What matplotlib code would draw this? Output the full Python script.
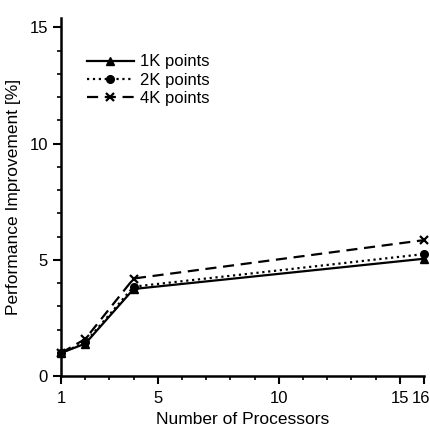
import matplotlib.pyplot as plt
import matplotlib.transforms as mtransforms
from matplotlib.ticker import MultipleLocator

plt.rcParams['font.family'] = ['Liberation Sans', 'DejaVu Sans']

# Data
procs = [1, 2, 4, 16]
imp_1k = [1.0, 1.4, 3.75, 5.05]
imp_2k = [1.0, 1.45, 3.85, 5.25]
imp_4k = [1.0, 1.6, 4.2, 5.85]
xticks = [1, 5, 10, 15, 16]
yticks = [0, 5, 10, 15]

fig = plt.figure(figsize=(4.30, 4.28), dpi=100)
ax = fig.add_axes([0.142, 0.121, 0.844, 0.837])

ax.plot(procs, imp_1k, color='black', lw=1.6, ls='-', marker='^', ms=5.5, label='1K points')
ax.plot(procs, imp_2k, color='black', lw=1.6, ls=':', marker='o', ms=5.5, label='2K points')
ax.plot(procs, imp_4k, color='black', lw=1.6, ls=(0, (5, 3)), marker='x', ms=6, mew=1.6,
        label='4K points')

ax.set_xlim(1, 16)
ax.set_ylim(0, 15.4)
ax.set_xticks(xticks)
ax.set_yticks(yticks)
ax.xaxis.set_minor_locator(MultipleLocator(1))
ax.yaxis.set_minor_locator(MultipleLocator(1))
ax.tick_params(which='major', length=6, width=1.5, labelsize=12)
ax.tick_params(which='minor', length=3, width=1.2)
ax.tick_params(axis='x', pad=5)

# nudge the last tick label ("16") left so it stays inside the figure
lab16 = ax.get_xticklabels()[-1]
lab16.set_transform(lab16.get_transform() +
                    mtransforms.ScaledTranslation(-3 / 100, 0, fig.dpi_scale_trans))

for s in ['top', 'right']:
    ax.spines[s].set_visible(False)
for s in ['left', 'bottom']:
    ax.spines[s].set_linewidth(1.8)

for ln in ax.lines:
    ln.set_clip_on(False)

ax.set_xlabel('Number of Processors', fontsize=12.5, labelpad=4)
ax.set_ylabel('Performance Improvement [%]', fontsize=12.5, labelpad=6)

ax.legend(loc='upper left', bbox_to_anchor=(0.03, 0.94), frameon=False, fontsize=12,
          handlelength=2.8, handletextpad=0.4, labelspacing=0.2)

fig.savefig('out.png', dpi=100)
